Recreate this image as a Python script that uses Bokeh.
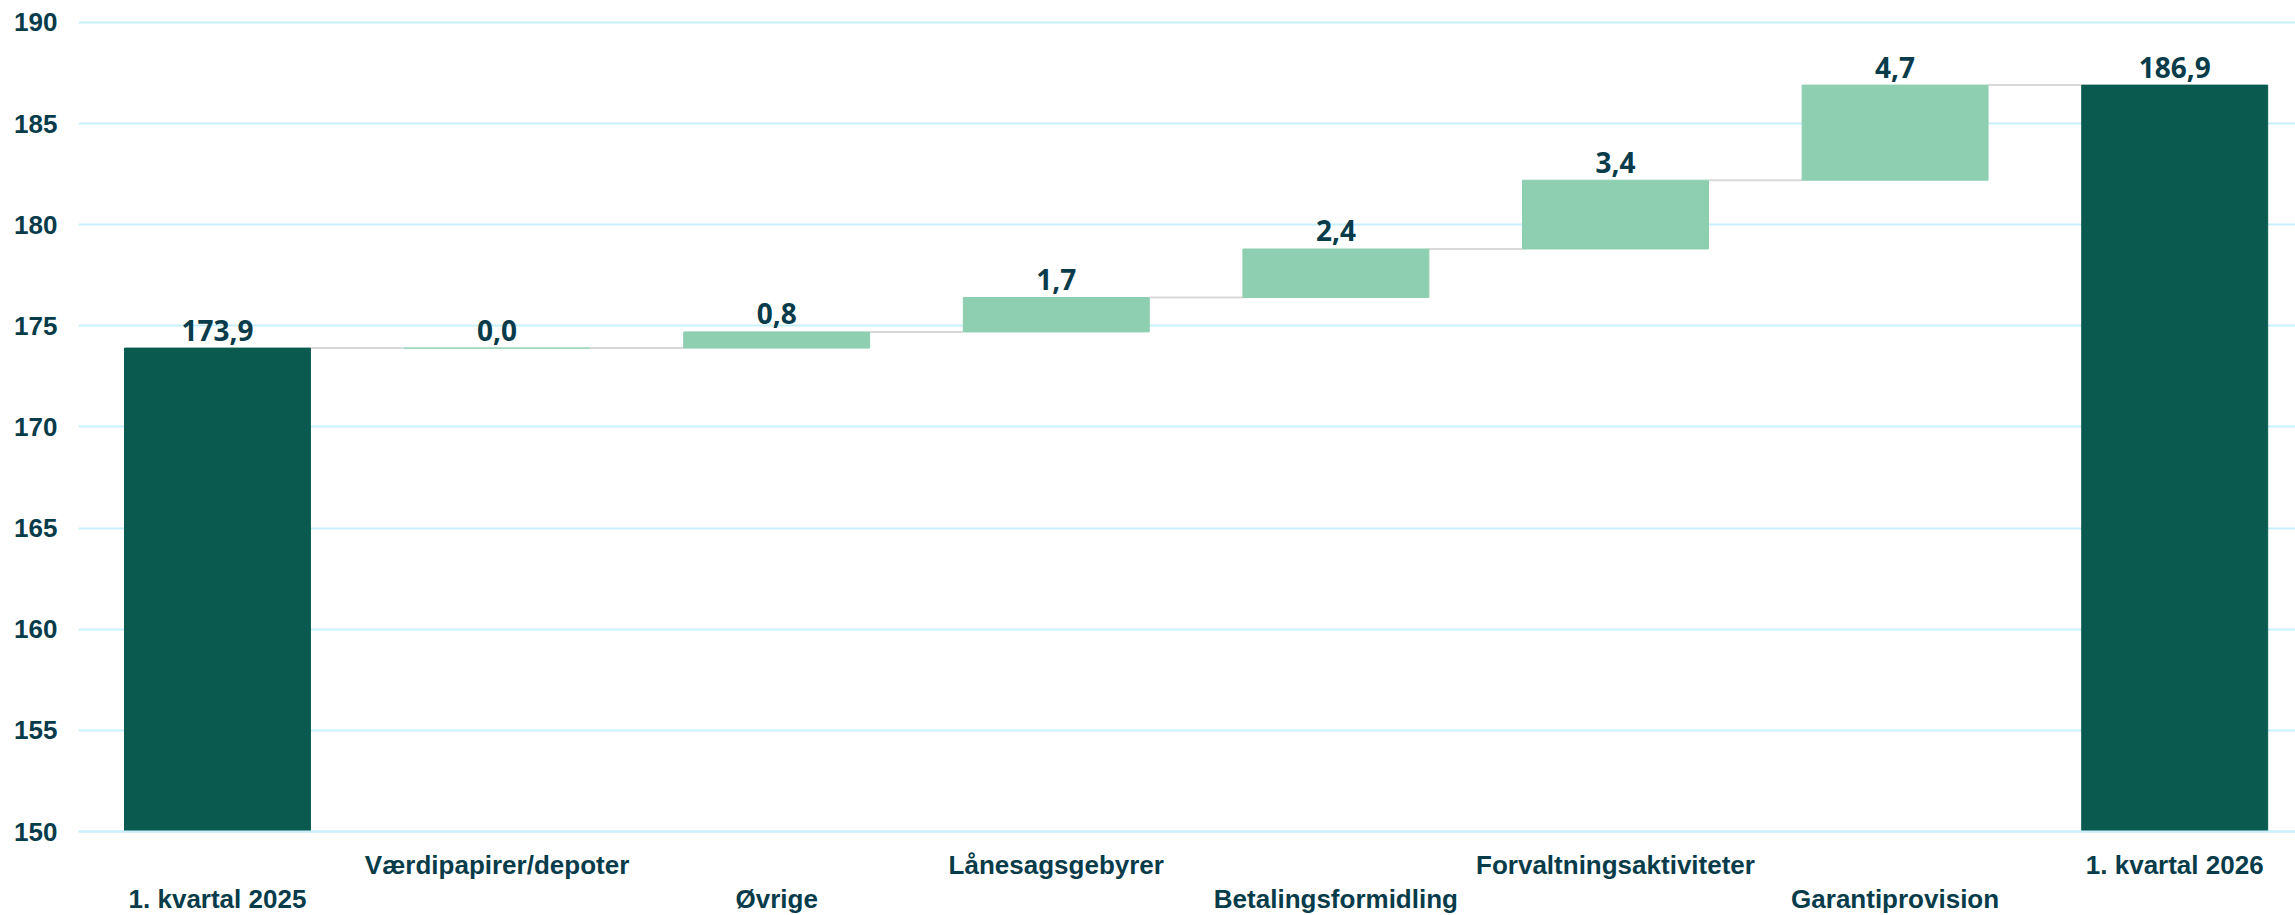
from bokeh.plotting import figure
from bokeh.models import ColumnDataSource, FixedTicker, Span, Range1d
from bokeh.core.properties import value
from bokeh.embed import file_html
from bokeh.resources import INLINE

# ---- data ----
categories = ["1. kvartal 2025", "Værdipapirer/depoter", "Øvrige", "Lånesagsgebyrer",
              "Betalingsformidling", "Forvaltningsaktiviteter", "Garantiprovision", "1. kvartal 2026"]
values = [173.9, 0.0, 0.8, 1.7, 2.4, 3.4, 4.7, 186.9]
kinds = ["total", "delta", "delta", "delta", "delta", "delta", "delta", "total"]
y_ticks = [150, 155, 160, 165, 170, 175, 180, 185, 190]
axis_base = 150

# ---- styles ----
DARK = "#0A5A50"
LIGHT = "#8DCFB0"
TEXT = "#083C4A"
GRID = "#C8F0FA"
CONN = "#D9D9D9"
BAR_W = 0.665

# ---- derived waterfall geometry ----
bottoms, tops, colors, x = [], [], [], []
running = 0.0
for i, (v, k) in enumerate(zip(values, kinds)):
    x.append(i)
    if k == "total":
        bottoms.append(axis_base)
        tops.append(v)
        running = v
        colors.append(DARK)
    else:
        bottoms.append(running)
        tops.append(running + v)
        running += v
        colors.append(LIGHT)

labels = [f"{v:.1f}".replace(".", ",") for v in values]
src = ColumnDataSource(dict(x=x, bottom=bottoms, top=tops, color=colors, label=labels))

n = len(categories)
cat_src = ColumnDataSource(dict(
    x=list(range(n)),
    y=[axis_base] * n,
    text=categories,
    yoff=[33 if i % 2 == 1 else 67 for i in range(n)],
))

conn_src = ColumnDataSource(dict(
    x0=[i + BAR_W / 2 for i in range(n - 1)],
    x1=[i + 1 - BAR_W / 2 for i in range(n - 1)],
    y=[tops[i] for i in range(n - 1)],
))

p = figure(width=2295, height=915, output_backend="svg", toolbar_location=None,
           x_range=Range1d(-0.497, 7.432), y_range=Range1d(145.85, 190.49),
           x_axis_location=None, min_border_left=78, min_border_right=0,
           min_border_top=12, min_border_bottom=0)
p.outline_line_color = None
p.background_fill_color = "white"
p.border_fill_color = "white"

p.xgrid.visible = False
p.ygrid.ticker = FixedTicker(ticks=y_ticks)
p.ygrid.grid_line_color = GRID
p.ygrid.grid_line_width = 2

ax = p.yaxis[0]
ax.ticker = FixedTicker(ticks=y_ticks)
ax.axis_line_color = None
ax.major_tick_line_color = None
ax.minor_tick_line_color = None
ax.major_label_standoff = 15
ax.major_label_text_font = "Liberation Sans"
ax.major_label_text_font_style = "bold"
ax.major_label_text_font_size = "26px"
ax.major_label_text_color = TEXT

p.segment(x0="x0", y0="y", x1="x1", y1="y", source=conn_src, line_color=CONN, line_width=2)

p.vbar(x="x", width=BAR_W, bottom="bottom", top="top", source=src,
       fill_color="color", line_color="color", line_width=1)

p.add_layout(Span(location=axis_base, dimension="width", line_color=GRID, line_width=2, level="overlay"))

p.text(x="x", y="top", text="label", source=src, text_align="center", text_baseline="middle",
       y_offset=-18, text_font=value("Open Sans"), text_font_style="bold",
       text_font_size="28px", text_color=TEXT)

p.text(x="x", y="y", text="text", source=cat_src, text_align="center", text_baseline="middle",
       y_offset="yoff", text_font=value("Liberation Sans"), text_font_style="bold",
       text_font_size="26px", text_color=TEXT)

open("out.html", "w").write(file_html(p, INLINE))
